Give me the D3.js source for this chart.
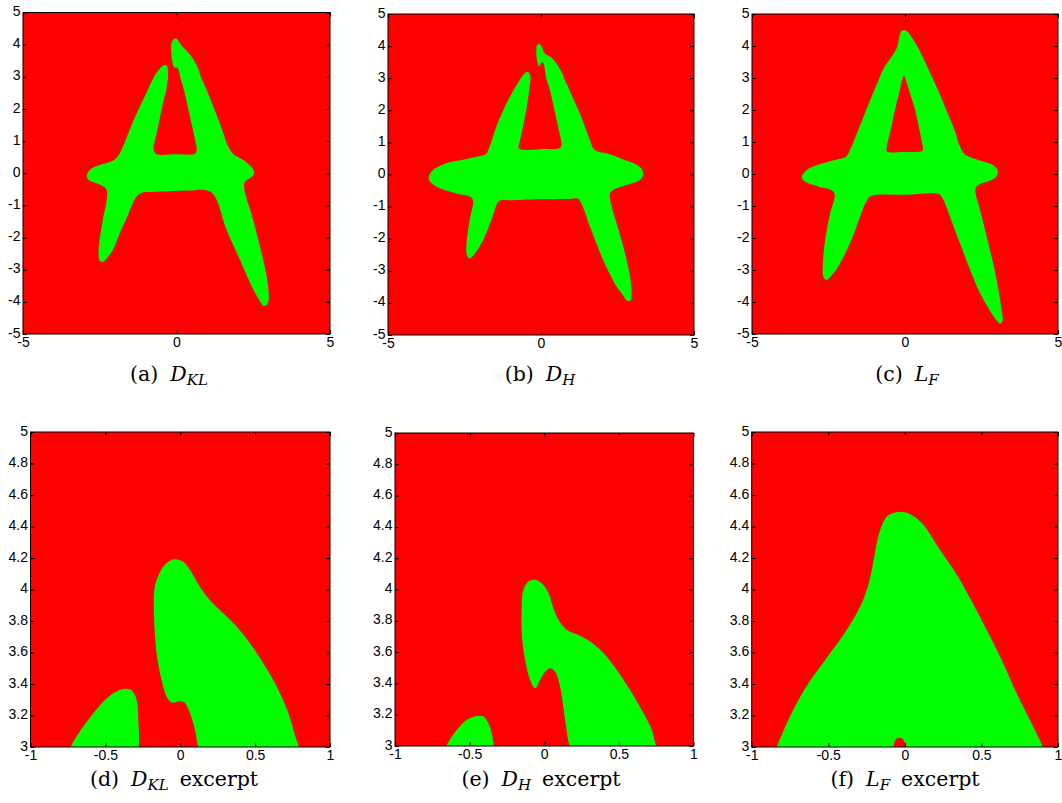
<!DOCTYPE html>
<html>
<head>
<meta charset="utf-8">
<script src="https://cdn.jsdelivr.net/npm/d3@7"></script>
<style>
  html, body { margin: 0; padding: 0; background: #ffffff; }
  svg { display: block; }
  .tick text { font-family: "Liberation Sans", Arial, Helvetica, sans-serif; font-size: 14px; fill: #000; }
  .tick line { stroke: #000; stroke-width: 1; }
  .caption { font-family: "DejaVu Serif", "Liberation Serif", serif; font-size: 20.5px; fill: #000; }
</style>
</head>
<body>
<svg id="chart" width="1062" height="803"></svg>
<script>
// Axis ranges and tick values
const fullDomain = [-5, 5];
const fullTicksX = [-5, 0, 5];
const fullTicksY = [-5, -4, -3, -2, -1, 0, 1, 2, 3, 4, 5];
const excerptDomainX = [-1, 1];
const excerptDomainY = [3, 5];
const excerptTicksX = [-1, -0.5, 0, 0.5, 1];
const excerptTicksY = [3, 3.2, 3.4, 3.6, 3.8, 4, 4.2, 4.4, 4.6, 4.8, 5];

// Decision regions (class 2, green) as boundary outlines in data units
const klRegion = [
  [-0.174, 3.81], [-0.174, 3.99], [-0.158, 4.06], [-0.114, 4.145], [-0.05, 4.19], [0.02, 4.176],
  [0.065, 4.124], [0.131, 4.018], [0.198, 3.933], [0.287, 3.849], [0.376, 3.765], [0.465, 3.659],
  [0.555, 3.532], [0.644, 3.384], [0.72, 3.22], [0.793, 3.0],
  [0.98, 2.6], [1.2, 2.07], [1.45, 1.45], [1.69, 0.83], [1.85, 0.6], [2.05, 0.48], [2.29, 0.33],
  [2.47, 0.16], [2.53, 0.0], [2.45, -0.12], [2.29, -0.21], [2.21, -0.3], [2.21, -0.5], [2.27, -0.75],
  [2.45, -1.3], [2.61, -1.87], [2.8, -2.6], [2.94, -3.22], [3.0, -3.7], [3.0, -3.95], [2.94, -4.1],
  [2.83, -4.12], [2.7, -3.95], [2.51, -3.63], [2.3, -3.2], [2.07, -2.7], [1.63, -1.76], [1.31, -0.83],
  [1.14, -0.6], [0.93, -0.52],
  [0.4, -0.54], [-0.2, -0.56], [-0.8, -0.58], [-1.1, -0.6], [-1.3, -0.72], [-1.42, -0.93],
  [-1.65, -1.45], [-1.85, -1.87], [-2.07, -2.39], [-2.25, -2.62], [-2.4, -2.76], [-2.5, -2.72],
  [-2.54, -2.5], [-2.52, -2.2], [-2.4, -1.45], [-2.27, -0.8], [-2.27, -0.52], [-2.37, -0.42],
  [-2.58, -0.32], [-2.83, -0.23], [-2.92, -0.12], [-2.9, 0.0], [-2.78, 0.14], [-2.55, 0.24],
  [-2.3, 0.31], [-2.02, 0.42], [-1.87, 0.58], [-1.75, 0.82], [-1.63, 1.1], [-1.42, 1.6], [-1.2, 2.07],
  [-0.98, 2.5], [-0.733, 3.0], [-0.67, 3.1], [-0.58, 3.215], [-0.49, 3.31], [-0.40, 3.363],
  [-0.336, 3.367], [-0.303, 3.33], [-0.287, 3.28], [-0.28, 3.17], [-0.276, 3.0],
  [-0.33, 2.6], [-0.44, 2.18], [-0.6, 1.45], [-0.72, 0.95], [-0.75, 0.8], [-0.7, 0.64], [-0.6, 0.58],
  [0.0, 0.59], [0.5, 0.58], [0.6, 0.6], [0.66, 0.72], [0.6, 1.05], [0.44, 1.76], [0.25, 2.55],
  [0.12, 3.0], [0.098, 3.11], [0.065, 3.215], [0.031, 3.28], [0.0, 3.29], [-0.058, 3.283],
  [-0.091, 3.32], [-0.125, 3.427], [-0.158, 3.596]
];

const hRegion = [
  [-0.151, 3.72], [-0.151, 3.891], [-0.14, 3.998], [-0.106, 4.051], [-0.061, 4.062], [-0.017, 4.04],
  [0.028, 3.977], [0.061, 3.88], [0.095, 3.806], [0.151, 3.742], [0.229, 3.71], [0.307, 3.667],
  [0.397, 3.593], [0.486, 3.486], [0.575, 3.358], [0.665, 3.209], [0.721, 3.102], [0.75, 3.0],
  [0.83, 2.84], [1.05, 2.37], [1.27, 1.9], [1.45, 1.45], [1.6, 1.07], [1.72, 0.8], [1.85, 0.72],
  [2.14, 0.66], [2.69, 0.47], [3.1, 0.32], [3.29, 0.17], [3.34, -0.02], [3.23, -0.17], [2.8, -0.33],
  [2.36, -0.48], [2.25, -0.6], [2.31, -1.0], [2.5, -1.62], [2.69, -2.25], [2.91, -3.18], [2.96, -3.75],
  [2.92, -3.93], [2.82, -3.93], [2.65, -3.72], [2.47, -3.49], [2.03, -2.66], [1.6, -1.62], [1.32, -0.9],
  [1.2, -0.75], [0.94, -0.76], [-0.04, -0.77], [-1.02, -0.8], [-1.29, -0.8], [-1.4, -0.86],
  [-1.62, -1.42], [-1.89, -2.04], [-2.16, -2.46], [-2.33, -2.62], [-2.42, -2.52], [-2.43, -2.1],
  [-2.33, -1.42], [-2.22, -0.82], [-2.3, -0.7], [-2.76, -0.59], [-3.31, -0.43], [-3.6, -0.25],
  [-3.67, -0.08], [-3.55, 0.12], [-3.1, 0.35], [-2.55, 0.46], [-2.06, 0.56], [-1.8, 0.64],
  [-1.68, 0.87], [-1.46, 1.49], [-1.02, 2.42], [-0.658, 3.0], [-0.587, 3.102], [-0.52, 3.166],
  [-0.453, 3.192], [-0.408, 3.188], [-0.374, 3.145], [-0.352, 3.081], [-0.341, 3.0],
  [-0.37, 2.74], [-0.48, 2.01], [-0.62, 1.35], [-0.7, 1.0], [-0.74, 0.84], [-0.66, 0.78],
  [-0.04, 0.79], [0.6, 0.82], [0.67, 0.9], [0.6, 1.3], [0.51, 1.7], [0.29, 2.63], [0.169, 3.0],
  [0.14, 3.166], [0.106, 3.38], [0.073, 3.475], [0.039, 3.497], [0.006, 3.475], [-0.028, 3.422],
  [-0.061, 3.369], [-0.095, 3.422], [-0.128, 3.55]
];

const lfRegion = [
  [-0.11, 4.47], [-0.054, 4.49], [0.0, 4.49], [0.065, 4.46], [0.13, 4.40], [0.217, 4.27],
  [0.348, 4.08], [0.478, 3.85], [0.609, 3.6], [0.74, 3.32], [0.848, 3.11], [0.902, 3.0],
  [1.09, 2.6], [1.35, 2.0], [1.64, 1.32], [1.78, 0.9], [1.95, 0.62], [2.4, 0.44], [2.84, 0.3],
  [3.02, 0.14], [3.0, -0.07], [2.75, -0.22], [2.4, -0.34], [2.3, -0.46], [2.51, -1.33], [2.95, -3.1],
  [3.15, -4.2], [3.19, -4.58], [3.12, -4.68], [2.95, -4.52], [2.7, -4.15], [2.4, -3.62], [1.75, -2.05],
  [1.2, -0.72], [1.08, -0.62], [0.0, -0.65], [-1.09, -0.68], [-1.24, -0.82], [-1.75, -2.06],
  [-2.18, -2.89], [-2.4, -3.17], [-2.57, -3.31], [-2.67, -3.2], [-2.68, -2.75], [-2.6, -2.0],
  [-2.45, -1.25], [-2.3, -0.62], [-2.42, -0.5], [-2.84, -0.39], [-3.28, -0.23], [-3.37, -0.08],
  [-3.22, 0.12], [-2.84, 0.29], [-2.29, 0.44], [-1.93, 0.54], [-1.8, 0.75], [-1.31, 1.9],
  [-0.837, 3.0], [-0.74, 3.215], [-0.63, 3.405], [-0.52, 3.553], [-0.41, 3.70], [-0.32, 3.84],
  [-0.27, 3.94], [-0.23, 4.06], [-0.196, 4.23], [-0.174, 4.335], [-0.14, 4.43]
];

const lfHole = [
  [-0.076, 3.0], [-0.061, 3.046], [-0.043, 3.057], [-0.022, 3.057], [-0.004, 3.036], [0.011, 3.0],
  [0.17, 2.5], [0.33, 2.0], [0.5, 1.25], [0.58, 0.85], [0.58, 0.74], [0.52, 0.7], [0.0, 0.69],
  [-0.52, 0.68], [-0.6, 0.72], [-0.6, 0.82], [-0.45, 1.45], [-0.33, 2.0], [-0.2, 2.5]
];

// Caption pieces
const captionLetters = ["(a)", "(b)", "(c)", "(d)", "(e)", "(f)"];
const captionSymbols = ["D", "D", "L", "D", "D", "L"];
const captionSubscripts = ["KL", "H", "F", "KL", "H", "F"];
const captionSuffix = ["", "", "", "excerpt", "excerpt", "excerpt"];

const regions = {
  kl: [klRegion],
  h: [hRegion],
  lf: [lfRegion, lfHole]
};

// Panel layout: plot box [left, top, right, bottom] and caption placement
const layout = [
  { box: [23, 12.5, 330, 334], full: true,  region: "kl", capX: 169, capY: 381 },
  { box: [388, 14, 694, 335], full: true,  region: "h",  capX: 540, capY: 381 },
  { box: [752, 14, 1058, 334], full: true, region: "lf", capX: 907, capY: 381 },
  { box: [30.5, 432, 330, 747], full: false, region: "kl", capX: 174, capY: 786 },
  { box: [395, 433, 693.5, 746], full: false, region: "h",  capX: 541, capY: 786 },
  { box: [751.7, 432, 1058, 747], full: false, region: "lf", capX: 905, capY: 786 }
];

const svg = d3.select("#chart");
svg.append("rect").attr("width", 1062).attr("height", 803).attr("fill", "#ffffff");

const fmt = d => String(d);

layout.forEach((p, i) => {
  const [l, t, r, b] = p.box;
  const w = r - l, h = b - t;
  const x = d3.scaleLinear().domain(p.full ? fullDomain : excerptDomainX).range([0, w]);
  const y = d3.scaleLinear().domain(p.full ? fullDomain : excerptDomainY).range([h, 0]);
  const tx = p.full ? fullTicksX : excerptTicksX;
  const ty = p.full ? fullTicksY : excerptTicksY;

  const g = svg.append("g").attr("transform", `translate(${l},${t})`);

  const clipId = "clip" + i;
  g.append("clipPath").attr("id", clipId)
    .append("rect").attr("width", w).attr("height", h);

  // class 1 background
  g.append("rect").attr("width", w).attr("height", h).attr("fill", "#ff0000");

  // class 2 region
  const line = d3.line()
    .x(d => x(d[0]))
    .y(d => y(d[1]))
    .curve(d3.curveCatmullRomClosed.alpha(0.5));
  const d = regions[p.region].map(ring => line(ring)).join("");
  g.append("path")
    .attr("d", d)
    .attr("fill", "#00ff00")
    .attr("fill-rule", "evenodd")
    .attr("clip-path", `url(#${clipId})`);

  // axes with inward ticks on all four sides
  const tick = 4;
  g.append("g").attr("transform", `translate(0,${h})`)
    .call(d3.axisBottom(x).tickValues(tx).tickFormat(fmt).tickSizeInner(-tick).tickSizeOuter(0).tickPadding(3))
    .call(s => s.select(".domain").remove());
  g.append("g")
    .call(d3.axisTop(x).tickValues(tx).tickFormat("").tickSizeInner(-tick).tickSizeOuter(0))
    .call(s => s.select(".domain").remove());
  g.append("g")
    .call(d3.axisLeft(y).tickValues(ty).tickFormat(fmt).tickSizeInner(-tick).tickSizeOuter(0).tickPadding(2.5))
    .call(s => s.select(".domain").remove())
    .call(s => s.selectAll(".tick text").attr("dy", "0.22em"));
  g.append("g").attr("transform", `translate(${w},0)`)
    .call(d3.axisRight(y).tickValues(ty).tickFormat("").tickSizeInner(-tick).tickSizeOuter(0))
    .call(s => s.select(".domain").remove());
  g.selectAll(".tick text").attr("fill", "#000");

  g.append("rect").attr("width", w).attr("height", h)
    .attr("fill", "none").attr("stroke", "#000").attr("stroke-width", 1);

  // caption
  const cap = svg.append("text").attr("class", "caption")
    .attr("x", p.capX).attr("y", p.capY).attr("text-anchor", "middle");
  cap.append("tspan").text(captionLetters[i]);
  cap.append("tspan").attr("dx", 12).attr("font-style", "italic").text(captionSymbols[i]);
  cap.append("tspan").attr("font-style", "italic").attr("font-size", "15px").attr("dy", 4)
    .text(captionSubscripts[i]);
  if (captionSuffix[i]) {
    cap.append("tspan").attr("dy", -4).attr("dx", 11).text(captionSuffix[i]);
  }
});
</script>
</body>
</html>
